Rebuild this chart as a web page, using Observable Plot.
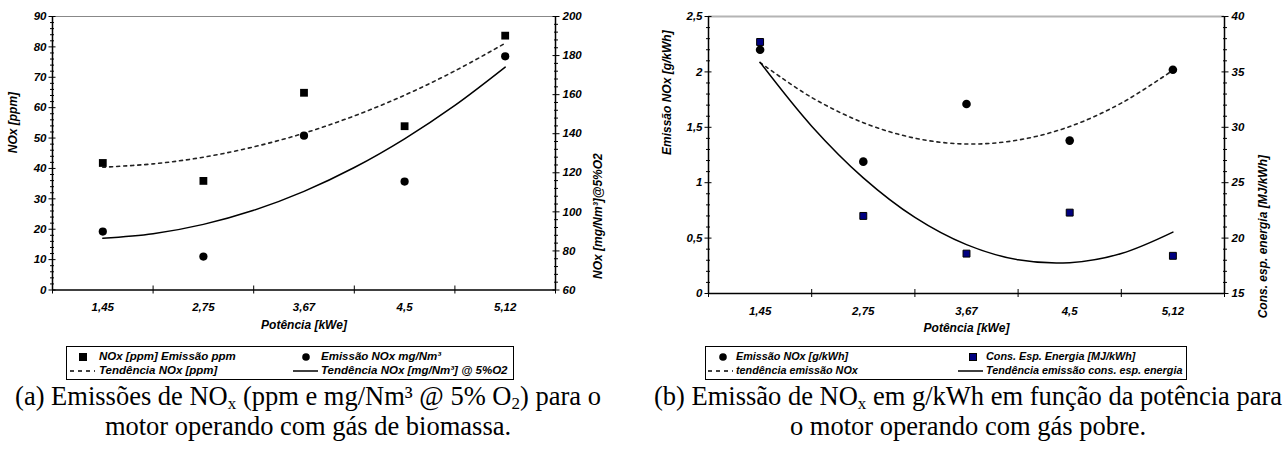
<!DOCTYPE html>
<html><head><meta charset="utf-8">
<script src="https://cdn.jsdelivr.net/npm/d3@7"></script>
<script src="https://cdn.jsdelivr.net/npm/@observablehq/plot@0.6"></script>
<style>
body{margin:0;background:#fff;}
#wrap{position:relative;width:1286px;height:449px;overflow:hidden;background:#fff;}
.chart{position:absolute;top:0;}
.chart text{font-weight:bold;font-style:italic;}
.legend{position:absolute;border:1px solid #000;box-sizing:border-box;font-family:"Liberation Sans",Arial,sans-serif;font-weight:bold;font-style:italic;color:#000;}
.legend .item{position:absolute;white-space:nowrap;line-height:13px;height:13px;}
.legend svg{position:absolute;overflow:visible;}
.caption{position:absolute;font-family:"Liberation Serif","Times New Roman",serif;font-size:26.5px;text-align:center;line-height:30px;white-space:nowrap;color:#000;}
.caption sub{font-size:17px;vertical-align:-4px;line-height:0;}
</style></head><body><div id="wrap"></div>
<script>
// ---------- data ----------
const categories = ["1,45", "2,75", "3,67", "4,5", "5,12"];
// chart (a)
const noxPpm = [41.8, 35.9, 64.9, 53.9, 83.7];          // left axis, ppm
const noxMg = [89.9, 77.1, 139.0, 115.5, 179.6];        // right axis, mg/Nm³
const trendX = [1, 1.5, 2, 2.5, 3, 3.5, 4, 4.5, 5];
const trendPpm = [40.4, 41.5, 43.7, 47.1, 51.6, 57.3, 64.1, 72.1, 81.2];
const trendMg = [86.5, 88.8, 93.6, 100.8, 110.5, 122.7, 137.4, 154.5, 174.1];
// chart (b)
const noxGkwh = [2.20, 1.19, 1.71, 1.38, 2.02];          // left axis, g/kWh
const consEnergia = [37.7, 22.0, 18.6, 22.3, 18.4];     // right axis, MJ/kWh
const trendNoxG = [2.084, 1.769, 1.542, 1.402, 1.349, 1.385, 1.507, 1.718, 2.015];
const trendCons = [35.86, 30.10, 25.44, 21.87, 19.41, 18.04, 17.78, 18.61, 20.54];
// tick labels
const ticksA = [0, 10, 20, 30, 40, 50, 60, 70, 80, 90];
const ticksA2 = [60, 80, 100, 120, 140, 160, 180, 200];
const ticksB = [0, 0.5, 1, 1.5, 2, 2.5];
const ticksB2 = [15, 20, 25, 30, 35, 40];

const wrap = document.getElementById("wrap");
const font = "font-family:'Liberation Sans',Arial,sans-serif;font-size:11.5px;font-weight:bold;font-style:italic;background:transparent;overflow:visible;";
const xIdx = categories.map((c, i) => i + 1);
const bounds = d3.range(0.5, categories.length + 1, 1);

function crossAxes(leftMajor, leftMinor, rightMajor, rightMinor, fmtL, fmtR) {
  return [
    Plot.axisX(bounds, {tickSize: 8, dy: -4, tickFormat: () => "", label: null}),
    Plot.axisX(xIdx, {tickSize: 0, tickPadding: 13, tickFormat: i => categories[i - 1], label: null}),
    Plot.axisY(leftMajor, {anchor: "left", tickSize: 7, dx: 3.5, tickFormat: () => "", label: null}),
    Plot.axisY(leftMinor, {anchor: "left", tickSize: 4, dx: 2, tickFormat: () => "", label: null}),
    Plot.axisY(leftMajor, {anchor: "left", tickSize: 0, tickPadding: 6, tickFormat: fmtL, label: null}),
    Plot.axisY(rightMajor, {anchor: "right", tickSize: 7, dx: -3.5, tickFormat: () => "", label: null}),
    Plot.axisY(rightMinor, {anchor: "right", tickSize: 4, dx: -2, tickFormat: () => "", label: null}),
    Plot.axisY(rightMajor, {anchor: "right", tickSize: 0, tickPadding: 7, tickFormat: fmtR, label: null})
  ];
}
const comma = v => String(v).replace(".", ",");
const titleStyle = {fontSize: 12, fontWeight: "bold", fontStyle: "italic"};

// ---------- chart (a) ----------
const toA = v => (v - 60) * 90 / 140;
const fromA = v => Math.round(v * 140 / 90 + 60);
const ptsA = categories.map((c, i) => ({x: i + 1, ppm: noxPpm[i], mg: toA(noxMg[i])}));
const trA = trendX.map((x, i) => ({x, ppm: trendPpm[i], mg: toA(trendMg[i])}));
const minorA = d3.range(0, 91, 2).filter(v => v % 10 !== 0);
const minorA2 = d3.range(60, 201, 4).filter(v => v % 20 !== 0).map(toA);

const chartA = Plot.plot({
  width: 640, height: 340,
  marginLeft: 52, marginRight: 85, marginTop: 16, marginBottom: 50.5,
  x: {domain: [0.5, 5.5], axis: null, label: null},
  y: {domain: [0, 90], axis: null, label: null},
  style: font,
  marks: [
    Plot.ruleY([90], {stroke: "#888", strokeWidth: 1}),
    Plot.ruleY([0], {stroke: "#000", strokeWidth: 1.5}),
    Plot.ruleX([0.5], {stroke: "#000", strokeWidth: 1.5}),
    Plot.ruleX([5.5], {stroke: "#000", strokeWidth: 1.5}),
    ...crossAxes(ticksA, minorA, ticksA2.map(toA), minorA2, v => v, fromA),
    Plot.text(["NOx [ppm]"], {frameAnchor: "left", rotate: -90, dx: -39, ...titleStyle}),
    Plot.text(["NOx [mg/Nm³]@5%O2"], {frameAnchor: "right", rotate: -90, dx: 43, ...titleStyle}),
    Plot.text(["Potência [kWe]"], {frameAnchor: "bottom", dy: 38.5, ...titleStyle}),
    Plot.line(trA, {x: "x", y: "ppm", curve: "catmull-rom", stroke: "#222", strokeWidth: 1.6, strokeDasharray: "3,4"}),
    Plot.line(trA, {x: "x", y: "mg", curve: "catmull-rom", stroke: "#000", strokeWidth: 1.5}),
    Plot.dot(ptsA, {x: "x", y: "ppm", symbol: "square", r: 4.4, fill: "#000"}),
    Plot.dot(ptsA, {x: "x", y: "mg", symbol: "circle", r: 4.1, fill: "#000"})
  ]
});
chartA.classList.add("chart");
chartA.style.left = "0px";
wrap.appendChild(chartA);

// ---------- chart (b) ----------
const toB = v => (v - 15) * 2.5 / 25;
const fromB = v => Math.round(v * 10 + 15);
const ptsB = categories.map((c, i) => ({x: i + 1, nox: noxGkwh[i], cons: toB(consEnergia[i])}));
const trB = trendX.map((x, i) => ({x, nox: trendNoxG[i], cons: toB(trendCons[i])}));
const minorB = d3.range(0, 26, 1).filter(v => v % 5 !== 0).map(v => v / 10);
const minorB2 = d3.range(15, 41, 1).filter(v => v % 5 !== 0).map(toB);

const chartB = Plot.plot({
  width: 646, height: 340,
  marginLeft: 68, marginRight: 62, marginTop: 16, marginBottom: 47,
  x: {domain: [0.5, 5.5], axis: null, label: null},
  y: {domain: [0, 2.5], axis: null, label: null},
  style: font,
  marks: [
    Plot.ruleY([2.5], {stroke: "#b4b4b4", strokeWidth: 2}),
    Plot.ruleY([0], {stroke: "#000", strokeWidth: 1.5}),
    Plot.ruleX([0.5], {stroke: "#000", strokeWidth: 1.5}),
    Plot.ruleX([5.5], {stroke: "#000", strokeWidth: 1.5}),
    ...crossAxes(ticksB, minorB, ticksB2.map(toB), minorB2, comma, fromB),
    Plot.text(["Emissão NOx [g/kWh]"], {frameAnchor: "left", rotate: -90, dx: -41, ...titleStyle}),
    Plot.text(["Cons. esp. energia [MJ/kWh]"], {frameAnchor: "right", rotate: -90, dx: 39, ...titleStyle}),
    Plot.text(["Potência [kWe]"], {frameAnchor: "bottom", dy: 38.7, ...titleStyle}),
    Plot.line(trB, {x: "x", y: "nox", curve: "catmull-rom", stroke: "#222", strokeWidth: 1.6, strokeDasharray: "3,4"}),
    Plot.line(trB, {x: "x", y: "cons", curve: "catmull-rom", stroke: "#000", strokeWidth: 1.5}),
    Plot.dot(ptsB, {x: "x", y: "nox", symbol: "circle", r: 4.3, fill: "#000"}),
    Plot.dot(ptsB, {x: "x", y: "cons", symbol: "square", r: 3.9, fill: "#000080", stroke: "#000", strokeWidth: 1})
  ]
});
chartB.classList.add("chart");
chartB.style.left = "640px";
wrap.appendChild(chartB);

// ---------- legends ----------
function icon(type, fill) {
  if (type === "square") return `<svg width="8" height="8" style="left:-4px;top:2.5px"><rect x="0.5" y="0.5" width="7" height="7" fill="${fill}" stroke="#000"/></svg>`;
  if (type === "circle") return `<svg width="8" height="8" style="left:-4px;top:2.5px"><circle cx="4" cy="4" r="3.8" fill="#000"/></svg>`;
  if (type === "dash") return `<svg width="25" height="4" style="left:0;top:4.5px"><line x1="0" y1="2" x2="25" y2="2" stroke="#000" stroke-width="1.6" stroke-dasharray="4,4"/></svg>`;
  return `<svg width="25" height="4" style="left:0;top:4.5px"><line x1="0" y1="2" x2="25" y2="2" stroke="#000" stroke-width="1.5"/></svg>`;
}
function legend(left, top, width, fontSize, items) {
  const box = document.createElement("div");
  box.className = "legend";
  Object.assign(box.style, {left: left + "px", top: top + "px", width: width + "px", height: "34px", fontSize: fontSize + "px"});
  for (const it of items) {
    const ic = document.createElement("div");
    ic.className = "item";
    ic.style.left = it.iconX + "px"; ic.style.top = it.y + "px";
    ic.innerHTML = icon(it.type, it.fill || "#000");
    box.appendChild(ic);
    const tx = document.createElement("div");
    tx.className = "item";
    tx.style.left = it.textX + "px"; tx.style.top = it.y + "px";
    tx.textContent = it.label;
    box.appendChild(tx);
  }
  wrap.appendChild(box);
}
const legendA = ["NOx [ppm] Emissão ppm", "Emissão NOx mg/Nm³", "Tendência NOx [ppm]", "Tendência NOx [mg/Nm³] @ 5%O2"];
const legendB = ["Emissão NOx [g/kWh]", "Cons. Esp. Energia [MJ/kWh]", "tendência emissão NOx", "Tendência emissão cons. esp. energia"];
legend(66, 346, 448, 11.5, [
  {type: "square", iconX: 16, textX: 32, y: 3, label: legendA[0]},
  {type: "circle", iconX: 239, textX: 254, y: 3, label: legendA[1]},
  {type: "dash", iconX: 3, textX: 32, y: 17, label: legendA[2]},
  {type: "line", iconX: 226, textX: 254, y: 17, label: legendA[3]}
]);
legend(705, 346, 482, 10.8, [
  {type: "circle", iconX: 17, textX: 30, y: 3, label: legendB[0]},
  {type: "square", iconX: 267, textX: 280, y: 3, label: legendB[1], fill: "#000080"},
  {type: "dash", iconX: 2, textX: 30, y: 17, label: legendB[2]},
  {type: "line", iconX: 252, textX: 280, y: 17, label: legendB[3]}
]);

// ---------- captions ----------
function caption(left, width, html) {
  const d = document.createElement("div");
  d.className = "caption";
  Object.assign(d.style, {left: left + "px", width: width + "px", top: "381px"});
  d.innerHTML = html;
  wrap.appendChild(d);
}
caption(-12, 640, "(a) Emissões de NO<sub>x</sub> (ppm e mg/Nm³ @ 5% O<sub>2</sub>) para o<br>motor operando com gás de biomassa.");
caption(648, 640, "(b) Emissão de NO<sub>x</sub> em g/kWh em função da potência para<br>o motor operando com gás pobre.");
</script>
</body></html>
